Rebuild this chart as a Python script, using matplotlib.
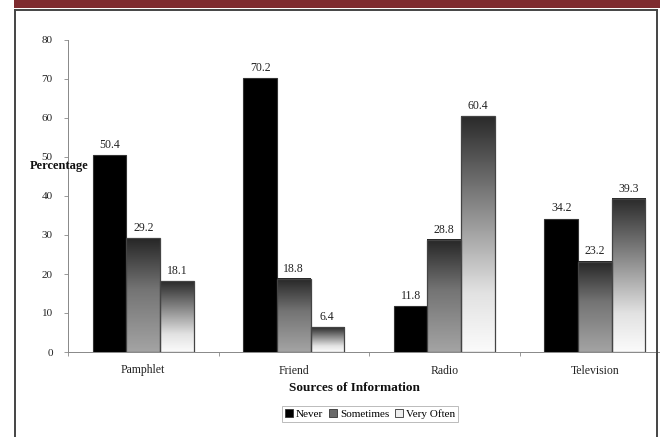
import numpy as np
import matplotlib.pyplot as plt
from matplotlib.colors import LinearSegmentedColormap
from matplotlib.patches import Rectangle, Patch
from matplotlib.lines import Line2D

# ---- Data
categories = ["Pamphlet", "Friend", "Radio", "Television"]
series = ["Never", "Sometimes", "Very Often"]
never = [50.4, 70.2, 11.8, 34.2]
sometimes = [29.2, 18.8, 28.8, 23.2]
very_often = [18.1, 6.4, 60.4, 39.3]
yticks = [0, 10, 20, 30, 40, 50, 60, 70, 80]

plt.rcParams["font.family"] = ["Liberation Serif", "DejaVu Serif"]

W, H = 660, 437
fig = plt.figure(figsize=(W / 100, H / 100), dpi=100)
fig.patch.set_facecolor("white")

# axes placed in pixel terms (plot area runs off the right edge, as in the scan)
ax = fig.add_axes([68 / W, (H - 352) / H, 602 / W, 312 / H])

# gradient maps, top -> bottom
cm_some = LinearSegmentedColormap.from_list(
    "some", [(0, "#262626"), (0.45, "#747474"), (1, "#a4a4a4")])
cm_very = LinearSegmentedColormap.from_list(
    "very", [(0, "#2a2a2a"), (0.4, "#8c8c8c"), (0.75, "#e2e2e2"), (1, "#fbfbfb")])

x = np.arange(len(categories))
bw = 0.223
grad = np.linspace(0, 1, 256).reshape(-1, 1)

for i, vals in enumerate([never, sometimes, very_often]):
    xs = x + (i - 1) * bw
    for xc, v in zip(xs, vals):
        if i == 0:
            ax.bar(xc, v, bw, color="black", edgecolor="#333333", linewidth=0.8, zorder=2)
        else:
            cmap = cm_some if i == 1 else cm_very
            ax.imshow(grad, extent=[xc - bw / 2, xc + bw / 2, 0, v], aspect="auto",
                      cmap=cmap, vmin=0, vmax=1, origin="upper", zorder=2)
            ax.bar(xc, v, bw, facecolor="none", edgecolor="#444444", linewidth=0.9, zorder=3)
        ax.annotate(f"{v}", (xc, v), xytext=(0, 3), textcoords="offset points",
                    ha="center", va="bottom", fontsize=8.5, color="#222222")

ax.set_xlim(-0.5, 3.5)
ax.set_ylim(0, 80)

ax.set_yticks(yticks)
ax.tick_params(axis="y", length=3, width=0.6, color="#888888", labelsize=8,
               pad=8, labelcolor="#222222")
ax.set_xticks(x)
ax.set_xticklabels(categories)
ax.set_xticks(np.arange(-0.5, 4.0, 1.0), minor=True)
ax.tick_params(axis="x", which="major", length=0, labelsize=8.5, pad=9, labelcolor="#222222")
ax.tick_params(axis="x", which="minor", length=3, width=0.6, color="#888888")

for s in ["top", "right"]:
    ax.spines[s].set_visible(False)
for s in ["left", "bottom"]:
    ax.spines[s].set_color("#888888")
    ax.spines[s].set_linewidth(0.7)

# axis titles
fig.text(30 / W, 1 - 166 / H, "Percentage", fontsize=9, fontweight="bold",
         ha="left", va="center", color="#111111")
fig.text(354 / W, 1 - 388 / H, "Sources of Information", fontsize=9.5, fontweight="bold",
         ha="center", va="center", color="#111111")

# legend
handles = [
    Patch(facecolor="black", edgecolor="#333333", linewidth=0.6),
    Patch(facecolor="#6a6a6a", edgecolor="#333333", linewidth=0.6),
    Patch(facecolor="#eeeeee", edgecolor="#333333", linewidth=0.6),
]
leg = fig.legend(handles, series, loc="center", bbox_to_anchor=(370 / W, 1 - 414 / H),
                 ncol=3, fontsize=8, frameon=True, fancybox=False, handlelength=0.7,
                 handleheight=0.7, handletextpad=0.3, columnspacing=0.5,
                 borderpad=0.3, borderaxespad=0)
leg.get_frame().set_edgecolor("#aaaaaa")
leg.get_frame().set_linewidth(0.7)

# page decoration: red band and frame
fig.patches.append(Rectangle((14 / W, 1 - 8 / H), 1, 8 / H, transform=fig.transFigure,
                             facecolor="#7e2b2f", edgecolor="none", zorder=5))
frame_kw = dict(transform=fig.transFigure, color="#444444", linewidth=1.4, zorder=5)
fig.lines.append(Line2D([15 / W, 15 / W], [0, 1 - 10 / H], **frame_kw))
fig.lines.append(Line2D([15 / W, 657 / W], [1 - 10 / H, 1 - 10 / H], **frame_kw))
fig.lines.append(Line2D([657 / W, 657 / W], [0, 1 - 10 / H], **frame_kw))

fig.savefig("out.png", dpi=100)
